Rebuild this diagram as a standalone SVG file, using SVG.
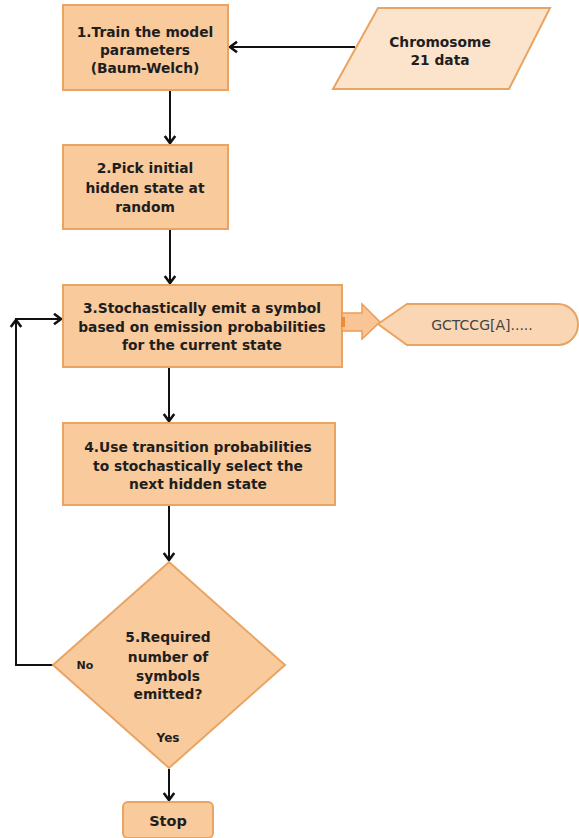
<svg xmlns="http://www.w3.org/2000/svg" width="579" height="838" viewBox="0 0 579 838">
<defs>
<style>
.box{fill:#F9CA9C;stroke:#E9A362;stroke-width:2}
.t{font-family:"DejaVu Sans",Verdana,sans-serif;font-weight:bold;font-size:13.8px;fill:#1e1e1e;text-anchor:middle}
.s{font-family:"DejaVu Sans",Verdana,sans-serif;font-weight:bold;font-size:11px;fill:#1e1e1e;text-anchor:middle}
.c{fill:none;stroke:#111;stroke-width:2}
</style>
<marker id="ah" markerUnits="userSpaceOnUse" markerWidth="14" markerHeight="14" viewBox="-8 -6 10 12" refX="0" refY="0" orient="auto">
<path d="M-6,-4.5 L0,0 L-6,4.5" fill="none" stroke="#111" stroke-width="2.2"/>
</marker>
</defs>
<rect width="579" height="838" fill="#fff"/>
<g id="connectors">
<line class="c" x1="355" y1="47" x2="230" y2="47" marker-end="url(#ah)"/>
<line class="c" x1="170" y1="91" x2="170" y2="143" marker-end="url(#ah)"/>
<line class="c" x1="170" y1="230" x2="170" y2="283" marker-end="url(#ah)"/>
<line class="c" x1="169" y1="368" x2="169" y2="421" marker-end="url(#ah)"/>
<line class="c" x1="169" y1="506" x2="169" y2="560" marker-end="url(#ah)"/>
<line class="c" x1="169" y1="769" x2="169" y2="800" marker-end="url(#ah)"/>
<path class="c" d="M53,665 H16 V320" marker-end="url(#ah)"/>
<path class="c" d="M15,319 H61" marker-end="url(#ah)"/>
</g>
<g id="n1">
<rect class="box" x="63" y="5" width="165" height="85"/>
<text class="t" x="145" y="37">1.Train the model</text>
<text class="t" x="145" y="55">parameters</text>
<text class="t" x="145" y="73">(Baum-Welch)</text>
</g>
<g id="data">
<polygon points="378,8 550,8 509,89 333,89" fill="#FCE3CC" stroke="#E9A362" stroke-width="2"/>
<text class="t" x="440" y="47">Chromosome</text>
<text class="t" x="440" y="65">21 data</text>
</g>
<g id="n2">
<rect class="box" x="63" y="145" width="165" height="84"/>
<text class="t" x="145" y="173">2.Pick initial</text>
<text class="t" x="145" y="193">hidden state at</text>
<text class="t" x="145" y="212">random</text>
</g>
<g id="n3">
<rect class="box" x="63" y="285" width="279" height="82"/>
<text class="t" x="202" y="313">3.Stochastically emit a symbol</text>
<text class="t" x="202" y="332">based on emission probabilities</text>
<text class="t" x="202" y="350">for the current state</text>
</g>
<g id="emit-arrow">
<polygon points="342,313 362,313 362,304 380,322 362,339 362,331 342,331" fill="#F9C597" stroke="#EE9A55" stroke-width="1.5"/>
<rect x="341" y="317" width="4" height="10" fill="#F08A35"/>
</g>
<g id="output">
<path d="M378,324 L407,304 H558 A20,20.5 0 0 1 558,345 H407 Z" fill="#FBD6B4" stroke="#E9A362" stroke-width="2"/>
<text x="482" y="330" font-family="'DejaVu Sans',Verdana,sans-serif" font-size="14" fill="#444" text-anchor="middle">GCTCCG[A].....</text>
</g>
<g id="n4">
<rect class="box" x="63" y="423" width="272" height="82"/>
<text class="t" x="198" y="452">4.Use transition probabilities</text>
<text class="t" x="198" y="471">to stochastically select the</text>
<text class="t" x="198" y="489">next hidden state</text>
</g>
<g id="n5">
<polygon class="box" points="169,562 285,665 169,768 53,665"/>
<text class="t" x="168" y="642">5.Required</text>
<text class="t" x="168" y="662">number of</text>
<text class="t" x="168" y="681">symbols</text>
<text class="t" x="168" y="699">emitted?</text>
<text class="s" x="85" y="669">No</text>
<text class="s" x="168" y="742" style="font-size:12px">Yes</text>
</g>
<g id="stop">
<rect class="box" x="123" y="802" width="90" height="36" rx="5"/>
<text class="t" x="168" y="826" style="font-size:14.5px">Stop</text>
</g>
</svg>
